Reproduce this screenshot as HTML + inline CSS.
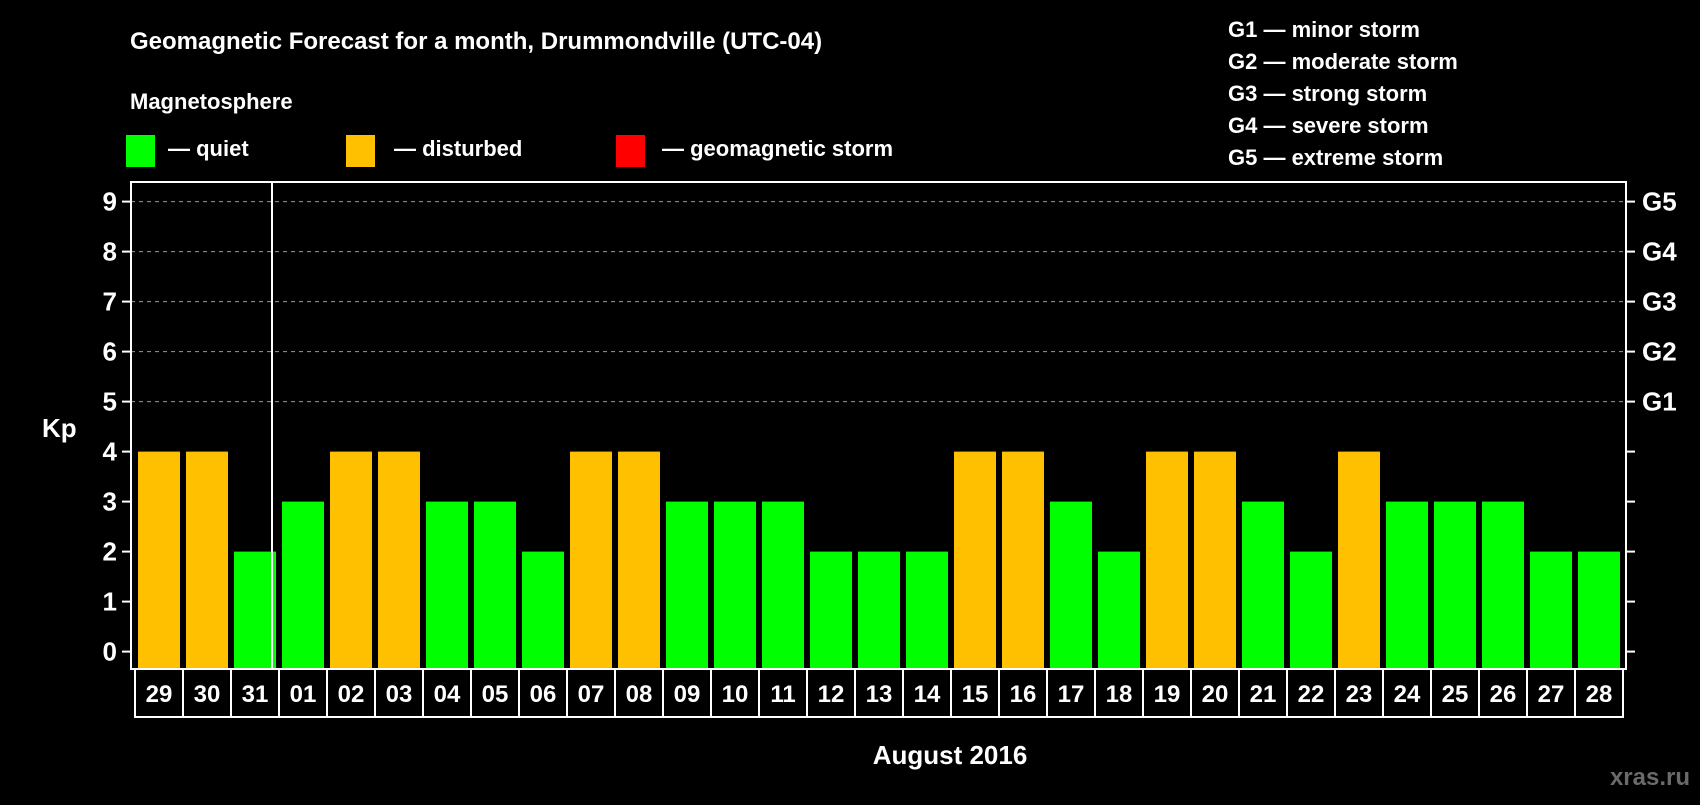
<!DOCTYPE html>
<html><head><meta charset="utf-8"><style>
html,body{margin:0;padding:0;background:#000;}
svg text{font-family:"Liberation Sans",Arial,sans-serif;font-weight:bold;fill:#fff;}
</style></head><body>
<svg id="chart" width="1700" height="800" xmlns="http://www.w3.org/2000/svg">
<rect width="1700" height="800" fill="#000"/>
<text x="130" y="49" font-size="24">Geomagnetic Forecast for a month, Drummondville (UTC-04)</text>
<text x="130" y="109" font-size="22">Magnetosphere</text>
<g><rect x="126" y="135" width="29" height="32" fill="#00ff00"/><text x="168" y="156" font-size="22">— quiet</text></g>
<g><rect x="346" y="135" width="29" height="32" fill="#ffc000"/><text x="394" y="156" font-size="22">— disturbed</text></g>
<g><rect x="616" y="135" width="29" height="32" fill="#ff0000"/><text x="662" y="156" font-size="22">— geomagnetic storm</text></g>
<g font-size="22">
<text x="1228" y="37">G1 — minor storm</text>
<text x="1228" y="69">G2 — moderate storm</text>
<text x="1228" y="101">G3 — strong storm</text>
<text x="1228" y="133">G4 — severe storm</text>
<text x="1228" y="165">G5 — extreme storm</text>
</g>
<text x="42" y="437" font-size="26">Kp</text>
<text x="950" y="764" font-size="26" text-anchor="middle">August 2016</text>
<text x="1690" y="785" font-size="24" text-anchor="end" style="fill:#6a6a6a">xras.ru</text>
<g id="grid"></g><g id="bars"></g><g id="axes"></g><g id="xlabels"></g>
<rect x="131" y="182" width="1495" height="487" fill="none" stroke="#fff" stroke-width="2"/>
</svg>
<script>
const days = ["29","30","31","01","02","03","04","05","06","07","08","09","10","11","12","13","14","15","16","17","18","19","20","21","22","23","24","25","26","27","28"];
const kpValues = [4,4,2,3,4,4,3,3,2,4,4,3,3,3,2,2,2,4,4,3,2,4,4,3,2,4,3,3,3,2,2];
const yTicks = [0,1,2,3,4,5,6,7,8,9];
const gLabels = ["G1","G2","G3","G4","G5"];
const NS="http://www.w3.org/2000/svg";
const y0=651.6, unit=50, x0=131, step=48;
function yScale(v){return y0-v*unit;}
function xScale(i){return x0+7+i*step;}
function mk(tag,attrs,parent,txt){const e=document.createElementNS(NS,tag);for(const k in attrs)e.setAttribute(k,attrs[k]);if(txt!==undefined)e.textContent=txt;parent.appendChild(e);return e;}
const grid=document.getElementById('grid'),bars=document.getElementById('bars'),axes=document.getElementById('axes'),xl=document.getElementById('xlabels');
yTicks.forEach(v=>{
  const y=yScale(v);
  if(v>=5){const g=mk('line',{x1:x0,x2:1626,y1:y,y2:y,stroke:'#999','stroke-dasharray':'4,4','stroke-width':1},grid);
    
    }
  mk('line',{x1:122,x2:x0,y1:y,y2:y,stroke:'#fff','stroke-width':2},axes);
  mk('line',{x1:1626,x2:1635,y1:y,y2:y,stroke:'#fff','stroke-width':2},axes);
  const t=mk('text',{x:117,y:y+9,'font-size':26,'text-anchor':'end'},axes,String(v));
  
  
  if(v>=5){const g=mk('text',{x:1642,y:y+9,'font-size':26},axes,gLabels[v-5]);
    
    }
});
kpValues.forEach((v,i)=>{
  const r=mk('rect',{x:xScale(i),y:yScale(v),width:42,height:669-yScale(v),fill:v>=5?'#ff0000':(v>=4?'#ffc000':'#00ff00')},bars);
  
  
});
const dv=mk('line',{x1:x0+3*step-4+1,x2:x0+3*step-4+1,y1:182,y2:669,stroke:'#fff','stroke-width':2},axes);


days.forEach((d,i)=>{
  const bx=135+i*step;
  const c=mk('rect',{x:bx,y:669,width:step,height:48,fill:'none',stroke:'#fff','stroke-width':2},xl);
  
  
  const t=mk('text',{x:bx+step/2,y:702,'font-size':24,'text-anchor':'middle'},xl,d);
  
  
});
</script>
</body></html>
